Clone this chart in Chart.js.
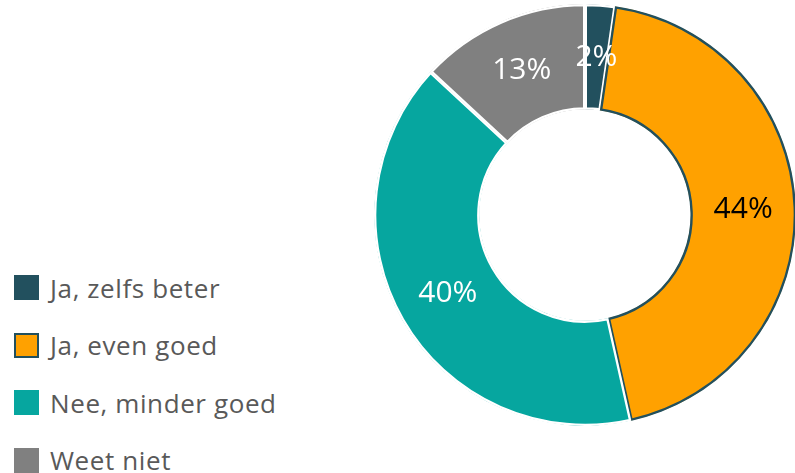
<!DOCTYPE html>
<html>
<head>
<meta charset="utf-8">
<script src="https://cdn.jsdelivr.net/npm/chart.js@4"></script>
<style>
  html, body { margin:0; padding:0; background:#fff; overflow:hidden; }
  body { width:795px; height:473px; position:relative; font-family:"Open Sans", "Noto Sans", sans-serif; }
  #wrap { position:absolute; left:374px; top:4px; width:422px; height:422px; }
  #legend { position:absolute; left:14px; top:259px; margin:0; padding:0; list-style:none; }
  #legend li { height:57.5px; display:flex; align-items:center; color:#595959; font-size:26px; letter-spacing:0.6px; }
  .swatch { display:inline-block; width:25px; height:25px; margin-right:11px; box-sizing:border-box; flex:none; }
</style>
</head>
<body>
<ul id="legend"></ul>
<div id="wrap"><canvas id="chart"></canvas></div>
<script>
const categories = ['Ja, zelfs beter', 'Ja, even goed', 'Nee, minder goed', 'Weet niet'];
const values = [2.3, 44.2, 40.4, 13.1];
const valueLabels = ['2%', '44%', '40%', '13%'];
const colors = ['#22505E', '#FFA100', '#06A69F', '#808080'];
const borderColors = ['#FFFFFF', '#22505E', '#FFFFFF', '#FFFFFF'];
const labelColors = ['#FFFFFF', '#000000', '#FFFFFF', '#FFFFFF'];

document.getElementById('legend').innerHTML = categories.map((c, i) => `
  <li><span class="swatch" style="background:${colors[i]};${i === 1 ? 'border:2px solid ' + borderColors[i] + ';' : ''}"></span>${c}</li>
`).join('');

const sliceLabels = {
  id: 'sliceLabels',
  afterDatasetsDraw(chart){
    const ctx = chart.ctx;
    const meta = chart.getDatasetMeta(0);
    ctx.save();
    ctx.font = '30px "Open Sans", "Noto Sans", sans-serif';
    ctx.textAlign = 'center';
    ctx.textBaseline = 'middle';
    meta.data.forEach((arc, i) => {
      const p = arc.tooltipPosition();
      ctx.fillStyle = labelColors[i];
      ctx.fillText(valueLabels[i], p.x, p.y);
    });
    ctx.restore();
  }
};

new Chart(document.getElementById('chart'), {
  type: 'doughnut',
  data: {
    labels: categories,
    datasets: [{
      data: values,
      backgroundColor: colors,
      borderColor: borderColors,
      borderWidth: 2,
      borderAlign: 'inner'
    }]
  },
  options: {
    responsive: true,
    maintainAspectRatio: false,
    animation: false,
    cutout: '50%',
    plugins: { legend: { display:false }, tooltip: { enabled:false } }
  },
  plugins: [sliceLabels]
});
</script>
</body>
</html>
